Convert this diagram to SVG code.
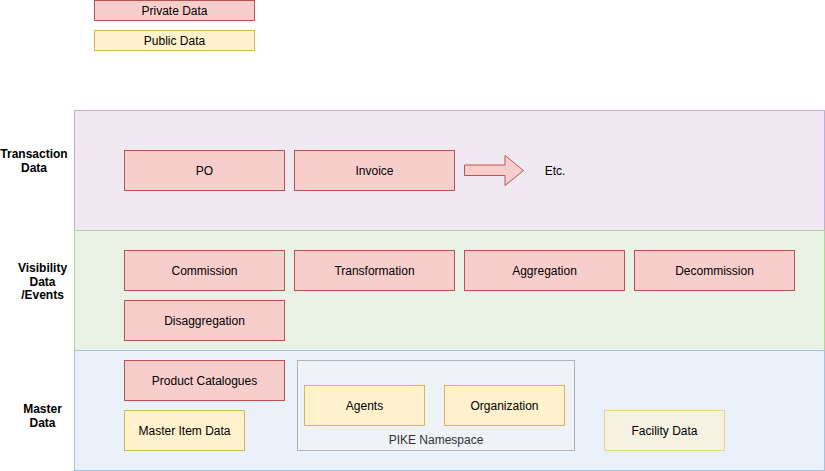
<svg xmlns="http://www.w3.org/2000/svg" width="825" height="471" viewBox="0 0 825 471">
<style>
text{font-family:"Liberation Sans",Arial,Helvetica,sans-serif;font-size:12px;fill:#000;text-anchor:middle;dominant-baseline:central}
.lab{font-weight:bold}
.priv{fill:#f8cecc;stroke:#b85450}
.pub{fill:#fff2cc;stroke:#d6b656}
</style>
<rect width="825" height="471" fill="#fff"/>
<g id="legend-private"><rect class="priv" x="94.5" y="0.5" width="160" height="20"/><text x="174.5" y="10.5">Private Data</text></g>
<g id="legend-public"><rect class="pub" x="94.5" y="30.5" width="160" height="20"/><text x="174.5" y="40.5">Public Data</text></g>

<g id="band-transaction"><rect x="74.5" y="110.5" width="750" height="120" fill="#f0e9f2" stroke="#c4aed0"/></g>
<g id="band-visibility"><rect x="74.5" y="230.5" width="750" height="120" fill="#e9f2e5" stroke="#b3d4a5"/></g>
<g id="band-master"><rect x="74.5" y="350.5" width="750" height="120" fill="#ebf1fb" stroke="#a9c1dc"/></g>

<g id="label-transaction"><text class="lab" x="34" y="154">Transaction</text><text class="lab" x="34" y="168">Data</text></g>
<g id="label-visibility"><text class="lab" x="42.5" y="268">Visibility</text><text class="lab" x="42.5" y="281.5">Data</text><text class="lab" x="42.5" y="295">/Events</text></g>
<g id="label-master"><text class="lab" x="42.5" y="409">Master</text><text class="lab" x="42.5" y="423">Data</text></g>

<g id="po"><rect class="priv" x="124.5" y="150.5" width="160" height="40"/><text x="204.5" y="170.5">PO</text></g>
<g id="invoice"><rect class="priv" x="294.5" y="150.5" width="160" height="40"/><text x="374.5" y="170.5">Invoice</text></g>
<g id="arrow"><path class="priv" d="M464.5,165 L505,165 L505,155.5 L523.5,170.5 L505,185.5 L505,175.5 L464.5,175.5 Z"/></g>
<g id="etc"><text x="555" y="171">Etc.</text></g>

<g id="commission"><rect class="priv" x="124.5" y="250.5" width="160" height="40"/><text x="204.5" y="270.5">Commission</text></g>
<g id="transformation"><rect class="priv" x="294.5" y="250.5" width="160" height="40"/><text x="374.5" y="270.5">Transformation</text></g>
<g id="aggregation"><rect class="priv" x="464.5" y="250.5" width="160" height="40"/><text x="544.5" y="270.5">Aggregation</text></g>
<g id="decommission"><rect class="priv" x="634.5" y="250.5" width="160" height="40"/><text x="714.5" y="270.5">Decommission</text></g>
<g id="disaggregation"><rect class="priv" x="124.5" y="300.5" width="160" height="40"/><text x="204.5" y="320.5">Disaggregation</text></g>

<g id="product-catalogues"><rect class="priv" x="124.5" y="360.5" width="160" height="40"/><text x="204.5" y="380.5">Product Catalogues</text></g>
<g id="master-item"><rect class="pub" x="124.5" y="410.5" width="120" height="40"/><text x="184.5" y="430.5">Master Item Data</text></g>
<g id="pike"><rect x="297.5" y="360.5" width="277" height="90" fill="#eff2f7" stroke="#b3b3b3"/><text x="436" y="440" style="fill:#333">PIKE Namespace</text></g>
<g id="agents"><rect class="pub" x="304.5" y="385.5" width="120" height="40"/><text x="364.5" y="405.5">Agents</text></g>
<g id="organization"><rect class="pub" x="444.5" y="385.5" width="120" height="40"/><text x="504.5" y="405.5">Organization</text></g>
<g id="facility"><rect x="604.5" y="410.5" width="120" height="40" fill="#f5f1e3" stroke="#ebd28f"/><text x="664.5" y="430.5">Facility Data</text></g>
<g id="connectors"></g>
</svg>
